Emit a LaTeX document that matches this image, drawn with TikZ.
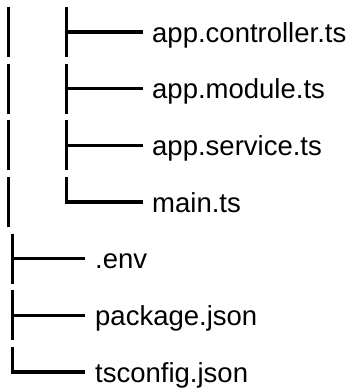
\documentclass[tikz,border=0pt]{standalone}
\usepackage{fontspec}
\setmainfont{Liberation Sans}
\begin{document}
\begin{tikzpicture}[x=1pt,y=-1pt,
  treeline/.style={draw=black, line width=3.3pt, line cap=butt, line join=miter},
  filelabel/.style={anchor=base west, inner sep=0pt, font=\fontsize{27.5}{33}\selectfont}]
\useasboundingbox (0,0) rectangle (352,391);
% row positions
\def\ra{32}\def\rb{88.67}\def\rc{145.33}\def\rd{202}
\def\re{258.67}\def\rf{315.33}\def\rg{372}
% outer (left) continuation line segments
\foreach \r/\n in {\ra/a,\rb/b,\rc/c,\rd/d}{
  \coordinate (Lt\n) at (8.3,\r-25);
  \coordinate (Lb\n) at (8.3,\r+25);
  \draw[treeline] (Lt\n) -- (Lb\n);
}
% inner group
\foreach \r/\n in {\ra/a,\rb/b,\rc/c}{
  \coordinate (It\n) at (66.7,\r-25);
  \coordinate (Ib\n) at (66.7,\r+25);
  \coordinate (Ij\n) at (66.7,\r);
  \coordinate (Ih\n) at (143,\r);
  \draw[treeline] (It\n) -- (Ib\n);
  \draw[treeline] (Ij\n) -- (Ih\n);
}
\coordinate (Itd) at (66.7,\rd-25);
\coordinate (Ijd) at (66.7,\rd);
\coordinate (Ihd) at (143,\rd);
\draw[treeline] (Itd) -- (Ijd) -- (Ihd);
% bottom group
\foreach \r/\n in {\re/e,\rf/f}{
  \coordinate (Bt\n) at (12.7,\r-25);
  \coordinate (Bb\n) at (12.7,\r+25);
  \coordinate (Bj\n) at (12.7,\r);
  \coordinate (Bh\n) at (85,\r);
  \draw[treeline] (Bt\n) -- (Bb\n);
  \draw[treeline] (Bj\n) -- (Bh\n);
}
\coordinate (Btg) at (12.7,\rg-25);
\coordinate (Bjg) at (12.7,\rg);
\coordinate (Bhg) at (85,\rg);
\draw[treeline] (Btg) -- (Bjg) -- (Bhg);
% labels
\node[filelabel] (ta) at (152,\ra+10) {app.controller.ts};
\node[filelabel] (tb) at (152,\rb+10) {app.module.ts};
\node[filelabel] (tc) at (152,\rc+10) {app.service.ts};
\node[filelabel] (td) at (152,\rd+10) {main.ts};
\node[filelabel] (te) at (95,\re+10) {.env};
\node[filelabel] (tf) at (95,\rf+10) {package.json};
\node[filelabel] (tg) at (95,\rg+10) {tsconfig.json};
\end{tikzpicture}
\end{document}
